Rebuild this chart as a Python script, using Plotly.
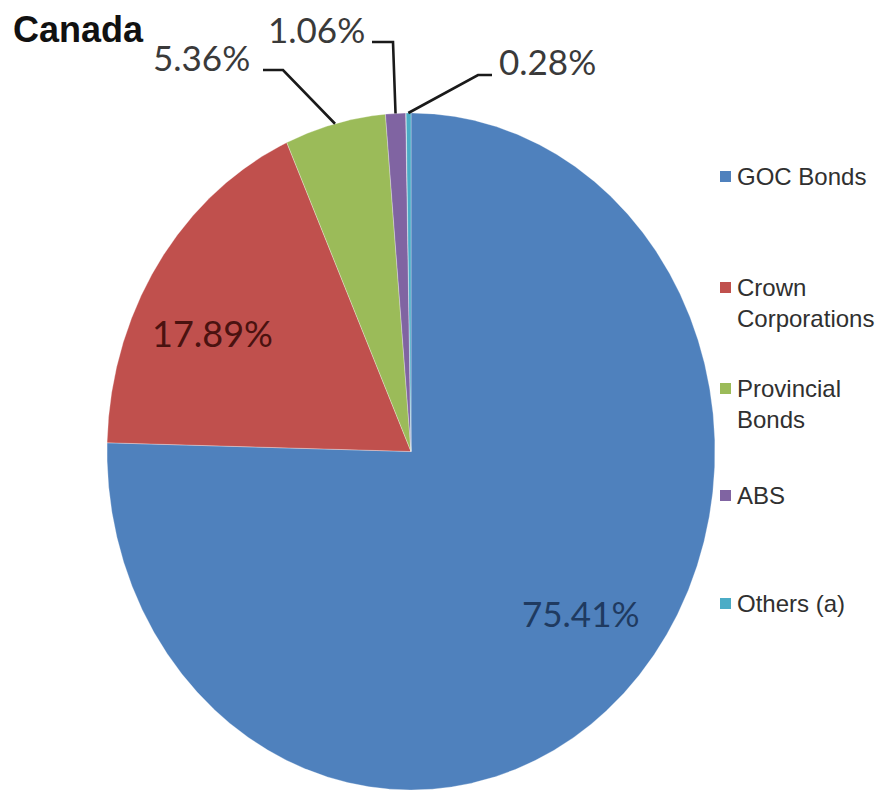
import numpy as np
import plotly.graph_objects as go

# Canada: composition of holdings (percent)
categories = ["GOC Bonds", "Crown Corporations", "Provincial Bonds", "ABS", "Others (a)"]
legend_labels = ["GOC Bonds", "Crown<br>Corporations", "Provincial<br>Bonds", "ABS", "Others (a)"]
shares = [75.41, 17.89, 5.36, 1.06, 0.28]
colors = ["#4F81BD", "#C0504D", "#9BBB59", "#8064A2", "#4BACC6"]
title_text = "Canada"

# Canvas and pie geometry (pixels)
W, H = 880, 792
CX, CY, RX, RY = 411, 451.5, 304, 338.5


def to_data(px, py):
    return (px - CX) / RX, (CY - py) / RY


def to_paper(px, py):
    return px / W, 1 - py / H


fig = go.Figure()

total = sum(shares)
cum = 0.0
mid_angles = []
for name, val, col in zip(categories, shares, colors):
    start, end = cum / total, (cum + val) / total
    cum += val
    # clockwise from 12 o'clock
    a0 = np.pi / 2 - 2 * np.pi * start
    a1 = np.pi / 2 - 2 * np.pi * end
    n = max(12, int(abs(a1 - a0) / 0.004))
    t = np.linspace(a0, a1, n)
    xs = np.concatenate([[0.0], np.cos(t), [0.0]])
    ys = np.concatenate([[0.0], np.sin(t), [0.0]])
    fig.add_trace(go.Scatter(
        x=xs, y=ys, mode="lines", fill="toself", fillcolor=col,
        line=dict(width=0.6, color="rgba(255,255,255,0.5)"),
        name=name, hoverinfo="name", showlegend=False,
    ))
    mid_angles.append((a0 + a1) / 2)

fmt = [f"{v:.2f}%" for v in shares]

# Labels placed inside the two large slices
inside = {0: ((581, 613), "#1F3A60", 35), 1: ((212, 333), "#4A1210", 36)}
for i, ((px, py), tc, fs) in inside.items():
    x, y = to_paper(px, py)
    fig.add_annotation(x=x, y=y, xref="paper", yref="paper", text=fmt[i],
                       showarrow=False, xanchor="center", yanchor="middle",
                       font=dict(family="Lato", size=fs, color=tc))

# Labels outside the small slices, with elbow leader lines
outside = {
    2: ((201, 57), [(263, 70), (283, 70)]),
    3: ((316, 29), [(372, 42), (393, 42)]),
    4: ((547, 61), [(492, 75), (478, 75)]),
}
for i, ((px, py), elbow) in outside.items():
    x, y = to_paper(px, py)
    fig.add_annotation(x=x, y=y, xref="paper", yref="paper", text=fmt[i],
                       showarrow=False, xanchor="center", yanchor="middle",
                       font=dict(family="Lato", size=35, color="#3a3a3a"))
    pts = [to_data(ex, ey) for ex, ey in elbow]
    pts.append((np.cos(mid_angles[i]), np.sin(mid_angles[i])))
    fig.add_trace(go.Scatter(
        x=[p[0] for p in pts], y=[p[1] for p in pts], mode="lines",
        line=dict(color="#1a1a1a", width=2.6), hoverinfo="skip", showlegend=False,
    ))

# Legend drawn at the right
legend_y = [177, 288, 389, 496, 604]
for lab, col, ly in zip(legend_labels, colors, legend_y):
    x0, y0 = to_paper(720, ly - 6)
    x1, y1 = to_paper(731, ly + 5)
    fig.add_shape(type="rect", xref="paper", yref="paper", x0=x0, y0=y1, x1=x1, y1=y0,
                  fillcolor=col, line=dict(width=0))
    tx, ty = to_paper(735, ly - 16)
    fig.add_annotation(x=tx, y=ty, xref="paper", yref="paper", text=lab,
                       showarrow=False, xanchor="left", yanchor="top", align="left",
                       font=dict(family="Liberation Sans", size=24, color="#303030"))

# Title
tx, ty = to_paper(11, 29)
fig.add_annotation(x=tx, y=ty, xref="paper", yref="paper", text=f"<b>{title_text}</b>",
                   showarrow=False, xanchor="left", yanchor="middle",
                   font=dict(family="Liberation Sans", size=36, color="#111111"))

fig.update_layout(
    width=W, height=H,
    margin=dict(l=0, r=0, t=0, b=0),
    paper_bgcolor="white", plot_bgcolor="white",
    xaxis=dict(range=[(0 - CX) / RX, (W - CX) / RX], visible=False, fixedrange=True),
    yaxis=dict(range=[(CY - H) / RY, CY / RY], visible=False, fixedrange=True),
    showlegend=False,
)

fig.write_html("out.html")
